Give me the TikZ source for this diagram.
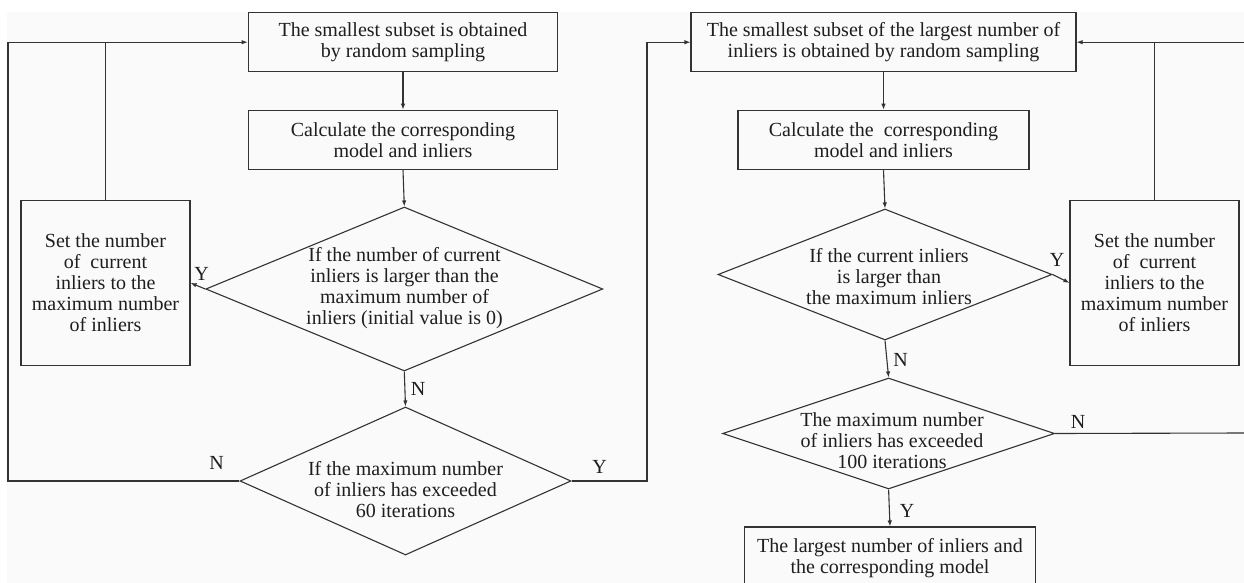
\documentclass[tikz,border=0pt]{standalone}
\usepackage{fontspec}
\setmainfont{Liberation Serif}
\usetikzlibrary{arrows.meta,shapes.geometric}
\definecolor{lnc}{HTML}{333333}
\definecolor{txc}{HTML}{1E1E1E}
\definecolor{bgc}{HTML}{FAFAFA}
\begin{document}
\begin{tikzpicture}[x=1pt,y=-1pt,
  every node/.style={font=\fontsize{20}{21}\selectfont, text=txc},
  box/.style={draw=lnc, line width=1.1pt, rectangle, inner sep=0pt, align=center},
  dia/.style={draw=lnc, line width=1.1pt, diamond, inner sep=0pt},
  txt/.style={align=center, inner sep=0pt},
  yn/.style={inner sep=0pt},
  conn/.style={draw=lnc, line width=1.1pt},
  arr/.style={conn, -{Latex[length=6pt,width=4.5pt]}}]
\useasboundingbox (0,0) rectangle (1244,583);
\fill[bgc] (7,12) rectangle (1244,583);

% left column
\node[box, minimum width=309.5pt, minimum height=59pt] (A1) at (403,42.2)
  {The smallest subset is obtained\\by random sampling};
\node[box, minimum width=309.5pt, minimum height=59.4pt] (A2) at (403,140)
  {Calculate the corresponding\\model and inliers};
\node[dia, minimum width=397pt, minimum height=164pt] (D1) at (404.3,289) {};
\node[txt] (t1) at (404.5,288)
  {If the number of current\\inliers is larger than the\\maximum number of\\inliers (initial value is 0)};
\node[box, minimum width=169pt, minimum height=165.7pt] (S1) at (105.5,282.9)
  {Set the number\\of\ \ current\\inliers to the\\maximum number\\of inliers};
\node[dia, minimum width=331pt, minimum height=148pt] (D2) at (405.5,481) {};
\node[txt] (t2) at (405.5,489.5)
  {If the maximum number\\of inliers has exceeded\\60 iterations};

% right column
\node[box, minimum width=385pt, minimum height=59pt] (B1) at (883.5,42.2)
  {The smallest subset of the largest number of\\inliers is obtained by random sampling};
\node[box, minimum width=291pt, minimum height=59.4pt] (B2) at (883.5,140)
  {Calculate the\ \ corresponding\\model and inliers};
\node[dia, minimum width=334pt, minimum height=131pt] (D3) at (885,274.5) {};
\node[txt] (t3) at (889,277)
  {If the current inliers\\is larger than\\the maximum inliers};
\node[box, minimum width=169pt, minimum height=165.7pt] (S2) at (1154.5,282.9)
  {Set the number\\of\ \ current\\inliers to the\\maximum number\\of inliers};
\node[dia, minimum width=332pt, minimum height=111pt] (D4) at (888.6,433.5) {};
\node[txt] (t4) at (892,441)
  {The maximum number\\of inliers has exceeded\\100 iterations};
\node[box, minimum width=291.5pt, minimum height=62pt] (E) at (890,558)
  {The largest number of inliers and\\the corresponding model};

% free ends
\coordinate (lc) at (8,42.2);
\coordinate (rc) at (1244,42.2);
\coordinate (rc2) at (1244,433);
\coordinate (mc) at (647,42.2);

% left connectors
\draw[arr] (A1.south) -- (A2.north);
\draw[arr] (A2.south) -- (D1.north);
\draw[arr] (D1.west) -- (S1.east);
\draw[conn] (S1.north) -- (S1.north |- A1.west);
\draw[arr] (D2.west) -| (lc) -- (A1.west);
\draw[arr] (D1.south) -- (D2.north);
\draw[arr] (D2.east) -| (mc) -- (B1.west);

% right connectors
\draw[arr] (B1.south) -- (B2.north);
\draw[arr] (B2.south) -- (D3.north);
\draw[arr] (D3.east) -- (S2.west);
\draw[conn] (S2.north) -- (S2.north |- B1.east);
\draw[arr] (rc) -- (B1.east);
\draw[arr] (D3.south) -- (D4.north);
\draw[conn] (D4.east) -- (rc2);
\draw[arr] (D4.south) -- (E.north);

% labels
\node[yn] (y1) at (201.5,274) {Y};
\node[yn] (n1) at (418,389) {N};
\node[yn] (n2) at (216.5,463) {N};
\node[yn] (y2) at (599.5,467) {Y};
\node[yn] (y3) at (1057,260) {Y};
\node[yn] (n3) at (900.5,360) {N};
\node[yn] (n4) at (1078,422) {N};
\node[yn] (y4) at (907,511) {Y};
\end{tikzpicture}
\end{document}
